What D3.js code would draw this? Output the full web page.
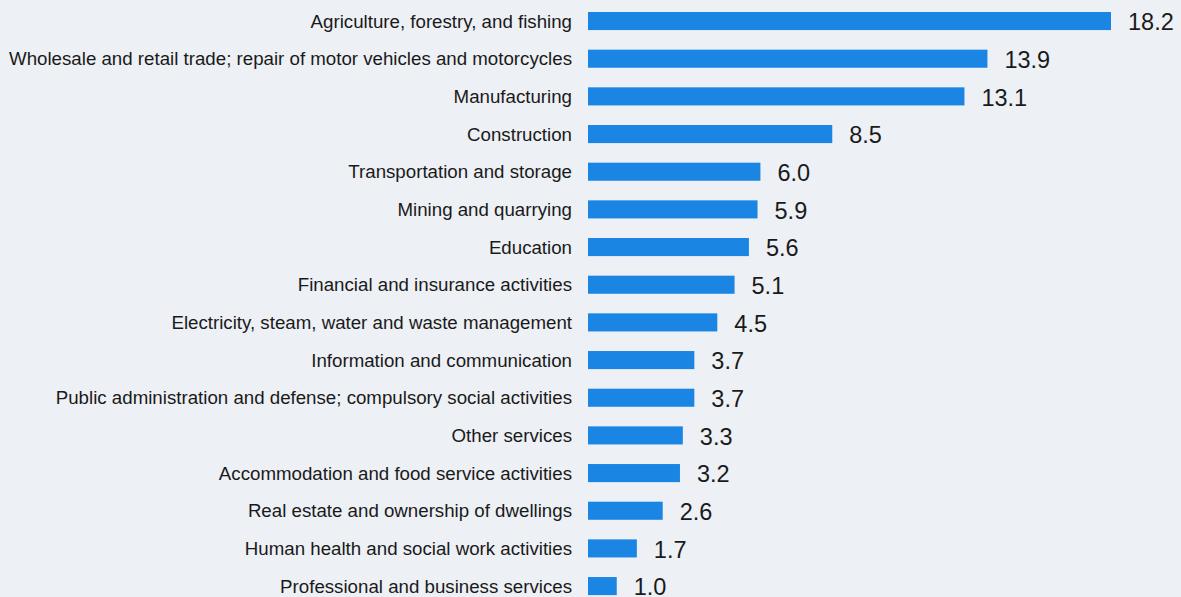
<!DOCTYPE html>
<html>
<head>
<meta charset="utf-8">
<script src="https://cdn.jsdelivr.net/npm/d3@7"></script>
<style>
  html, body { margin: 0; padding: 0; background: #edf0f5; }
  svg { display: block; }
</style>
</head>
<body>
<svg id="chart" width="1181" height="597"></svg>
<script>
// Sectors, largest share first
const categories = [
  "Agriculture, forestry, and fishing",
  "Wholesale and retail trade; repair of motor vehicles and motorcycles",
  "Manufacturing",
  "Construction",
  "Transportation and storage",
  "Mining and quarrying",
  "Education",
  "Financial and insurance activities",
  "Electricity, steam, water and waste management",
  "Information and communication",
  "Public administration and defense; compulsory social activities",
  "Other services",
  "Accommodation and food service activities",
  "Real estate and ownership of dwellings",
  "Human health and social work activities",
  "Professional and business services"
];
const values = [18.2, 13.9, 13.1, 8.5, 6.0, 5.9, 5.6, 5.1, 4.5, 3.7, 3.7, 3.3, 3.2, 2.6, 1.7, 1.0];

const svg = d3.select("#chart");
const x0 = 588;

const x = d3.scaleLinear().domain([0, 18.2]).range([x0, 1111]);
const y = d3.scaleBand().domain(categories).range([2.2, 2.2 + 16 * 37.67])
  .paddingInner(0.52).paddingOuter(0.26);

const rows = categories.map((c, i) => ({ c, v: values[i] }));

// bars
svg.append("g").selectAll("rect").data(rows).join("rect")
  .attr("x", x(0))
  .attr("y", d => y(d.c))
  .attr("width", d => x(d.v) - x(0))
  .attr("height", y.bandwidth())
  .attr("fill", "#1b85e4");

// category labels
svg.append("g").selectAll("text").data(rows).join("text")
  .attr("x", x(0) - 16)
  .attr("y", d => y(d.c) + y.bandwidth() / 2)
  .attr("dy", "0.35em")
  .attr("text-anchor", "end")
  .attr("font-family", "Liberation Sans, Arial, sans-serif")
  .attr("font-size", 18.7)
  .attr("fill", "#1a1a1a")
  .text(d => d.c);

// value labels
svg.append("g").selectAll("text").data(rows).join("text")
  .attr("x", d => x(d.v) + 17)
  .attr("y", d => y(d.c) + y.bandwidth() / 2 + 1)
  .attr("dy", "0.35em")
  .attr("font-family", "Liberation Sans, Arial, sans-serif")
  .attr("font-size", 23.5)
  .attr("fill", "#1a1a1a")
  .text(d => d3.format(".1f")(d.v));
</script>
</body>
</html>
